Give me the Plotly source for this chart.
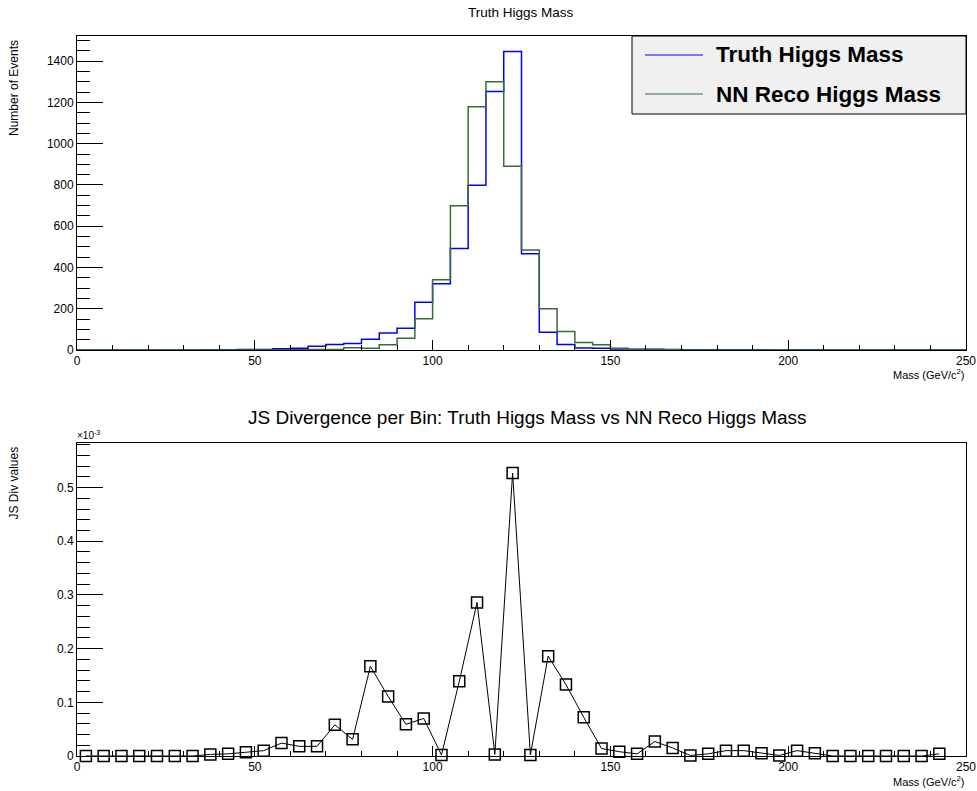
import plotly.graph_objects as go

W, H = 977, 791
BIN_WIDTH = 5
MASS_RANGE = [0, 250]

# bin contents, 50 bins of 5 GeV from 0 to 250
truth_counts = [0, 0, 0, 0, 0, 0, 0, 1, 1, 2,
                3, 6, 9, 18, 27, 31, 52, 83, 106, 232,
                321, 492, 799, 1253, 1447, 466, 86, 27, 10, 8,
                5, 4, 4, 3, 1, 1, 1, 1, 1, 0,
                1, 1, 0, 0, 0, 0, 0, 0, 0, 0]
reco_counts = [0, 0, 0, 0, 0, 0, 0, 0, 0, 0,
               0, 1, 1, 3, 3, 11, 8, 25, 57, 151,
               340, 699, 1179, 1300, 891, 485, 200, 90, 36, 26,
               9, 3, 2, 1, 0, 0, 0, 0, 0, 0,
               0, 0, 0, 0, 0, 0, 0, 0, 1, 0]

# JS divergence per bin (units of 1e-3), first 49 bins
js_div = [0, 0, 0, 0, 0, 0, 0, 0.003, 0.004, 0.007,
          0.010, 0.024, 0.018, 0.018, 0.058, 0.031, 0.167, 0.111, 0.059, 0.070,
          0.002, 0.139, 0.286, 0.003, 0.527, 0.002, 0.186, 0.133, 0.072, 0.014,
          0.008, 0.004, 0.027, 0.015, 0.001, 0.004, 0.010, 0.010, 0.005, 0.001,
          0.010, 0.005, 0, 0, 0, 0, 0, 0, 0.004]

TRUTH_COLOUR = '#0000ff'
RECO_COLOUR = '#3a6a3a'
FONT = 'Liberation Sans, Arial, sans-serif'


def px(x):
    return x / W


def py(y):
    return 1 - y / H


def step_xy(counts):
    """Bin edges + contents for a 'hv' step outline"""
    edges = [i * BIN_WIDTH for i in range(len(counts) + 1)]
    return edges, list(counts) + [counts[-1]]


def axis_style(dtick, minor_dtick, ticklen, domain, rng, anchor):
    return dict(
        domain=domain, range=rng, anchor=anchor, showgrid=False, zeroline=False,
        showline=True, mirror=True, linecolor='black', linewidth=1,
        ticks='inside', ticklen=ticklen, tickwidth=1, tickcolor='black',
        dtick=dtick, tick0=0,
        minor=dict(dtick=minor_dtick, tick0=0, ticks='inside', ticklen=ticklen / 2,
                   tickcolor='black', showgrid=False),
        tickfont=dict(family=FONT, size=12, color='black'),
        automargin=False, fixedrange=True,
    )


fig = go.Figure()

x, y = step_xy(truth_counts)
fig.add_trace(go.Scatter(x=x, y=y, mode='lines', line_shape='hv',
                         line=dict(color=TRUTH_COLOUR, width=1.5),
                         name='Truth Higgs Mass', xaxis='x', yaxis='y'))
x, y = step_xy(reco_counts)
fig.add_trace(go.Scatter(x=x, y=y, mode='lines', line_shape='hv',
                         line=dict(color=RECO_COLOUR, width=1.5),
                         name='NN Reco Higgs Mass', xaxis='x', yaxis='y'))

centres = [BIN_WIDTH * (i + 0.5) for i in range(len(js_div))]
fig.add_trace(go.Scatter(x=centres, y=js_div, mode='lines+markers',
                         line=dict(color='black', width=1),
                         marker=dict(symbol='square-open', size=11, color='black',
                                     line=dict(width=1.5, color='black')),
                         cliponaxis=False, xaxis='x2', yaxis='y2'))

top_dom = [py(350), py(36)]
bot_dom = [py(756), py(443)]
x_dom = [px(77), px(966)]

fig.update_layout(
    width=W, height=H, margin=dict(l=0, r=0, t=0, b=0),
    paper_bgcolor='white', plot_bgcolor='white', showlegend=False,
    font=dict(family=FONT, color='black'),
    xaxis=axis_style(50, 10, 10, x_dom, MASS_RANGE, 'y'),
    yaxis=axis_style(200, 50, 26, top_dom, [0, 1522], 'x'),
    xaxis2=axis_style(50, 10, 10, x_dom, MASS_RANGE, 'y2'),
    yaxis2=axis_style(0.1, 0.02, 26, bot_dom, [0, 0.583], 'x2'),
)

# legend box drawn by hand, ROOT style
fig.add_shape(type='rect', xref='paper', yref='paper',
              x0=px(632), x1=px(966), y0=py(114), y1=py(36),
              fillcolor='#f0f0f0', line=dict(color='black', width=1))
for label, colour, ypos in [('Truth Higgs Mass', TRUTH_COLOUR, 55),
                            ('NN Reco Higgs Mass', RECO_COLOUR, 94)]:
    fig.add_shape(type='line', xref='paper', yref='paper',
                  x0=px(645), x1=px(703), y0=py(ypos), y1=py(ypos),
                  line=dict(color=colour, width=1.2))
    fig.add_annotation(text='<b>%s</b>' % label, xref='paper', yref='paper',
                       x=px(714), y=py(ypos), xanchor='left', yanchor='middle',
                       showarrow=False, font=dict(size=22.5, family=FONT))

texts = [
    dict(text='Truth Higgs Mass', x=px(521), y=py(12), size=13.5),
    dict(text='JS Divergence per Bin: Truth Higgs Mass vs NN Reco Higgs Mass',
         x=px(527), y=py(417), size=19),
]
for t in texts:
    fig.add_annotation(text=t['text'], xref='paper', yref='paper', x=t['x'], y=t['y'],
                       xanchor='center', yanchor='middle', showarrow=False,
                       font=dict(size=t['size'], family=FONT))

for ytitle, ytop in [('Number of Events', 38), ('JS Div values', 445)]:
    fig.add_annotation(text=ytitle, xref='paper', yref='paper', x=px(14), y=py(ytop),
                       xanchor='center', yanchor='top', textangle=-90, showarrow=False,
                       font=dict(size=12, family=FONT))

for ymid in [374, 781]:
    fig.add_annotation(text='Mass (GeV/c<sup>2</sup>)', xref='paper', yref='paper',
                       x=px(967), y=py(ymid), xanchor='right', yanchor='middle',
                       showarrow=False, font=dict(size=11, family=FONT))

fig.add_annotation(text='\u00d710<sup>-3</sup>', xref='paper', yref='paper',
                   x=px(75), y=py(443), xanchor='left', yanchor='bottom',
                   showarrow=False, font=dict(size=10, family=FONT))

# drop the default page margin so the figure sits at the window origin
fig.write_html('out.html', config={'displayModeBar': False},
               post_script="document.body.style.margin='0';")
